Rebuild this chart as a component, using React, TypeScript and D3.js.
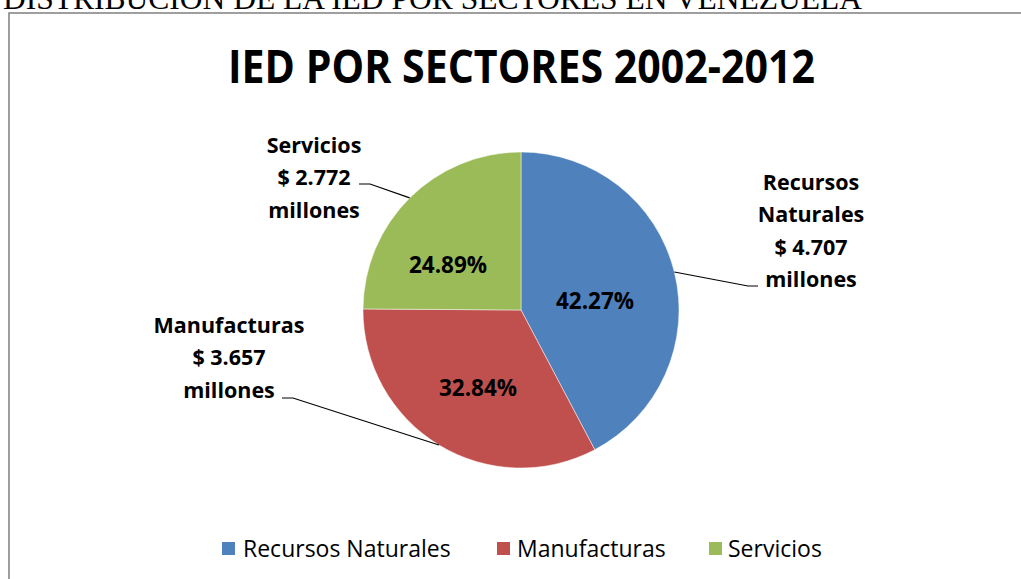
import React from "react";
import * as d3 from "d3";

const categories = ["Recursos Naturales", "Manufacturas", "Servicios"];
const values = [4707, 3657, 2772];
const amountLabels = ["$ 4.707", "$ 3.657", "$ 2.772"];
const colors = ["#4F81BD", "#C0504D", "#9BBB59"];
const pageHeading = "DISTRIBUCIÓN DE LA IED POR SECTORES EN VENEZUELA";
const chartTitle = "IED POR SECTORES 2002-2012";

const W = 1021;
const H = 579;
const cx = 521;
const cy = 310;
const R = 158;
const FONT = "'Open Sans', 'Noto Sans', sans-serif";

// label layouts (outside-end data labels)
const labelLines = [
  ["Recursos", "Naturales", amountLabels[0], "millones"],
  ["Manufacturas", amountLabels[1], "millones"],
  ["Servicios", amountLabels[2], "millones"],
];
const labelAnchors = [
  { x: 811, y: 190 },
  { x: 229, y: 333 },
  { x: 314, y: 153 },
];
const leaderEnds = [
  { x: 748, y: 286, hx: 758 },
  { x: 293, y: 398, hx: 282 },
  { x: 370, y: 184, hx: 359 },
];
// percentage label centres (layout)
const pctCentres = [
  { x: 595, y: 300 },
  { x: 478, y: 387 },
  { x: 448, y: 264 },
];

export default function App() {
  const total = d3.sum(values);
  const pie = d3.pie<number>().sort(null).value((d) => d);
  const arcs = pie(values);
  const arcGen = d3.arc<d3.PieArcDatum<number>>().innerRadius(0).outerRadius(R);
  const pctFmt = (v: number) => ((v / total) * 100).toFixed(2) + "%";

  const legendItems = [
    { sq: 222, tx: 243 },
    { sq: 497, tx: 517 },
    { sq: 709, tx: 728 },
  ];

  return (
    <svg
      width={W}
      height={H}
      style={{ position: "absolute", left: 0, top: 0, background: "#fff" }}
    >
      <rect x={0} y={0} width={W} height={H} fill="#fff" />
      <text
        x={3}
        y={9}
        fontFamily="'Liberation Serif', 'Times New Roman', serif"
        fontSize={31}
        textLength={859}
        lengthAdjust="spacingAndGlyphs"
        fill="#000"
      >
        {pageHeading}
      </text>
      <rect
        x={9}
        y={13}
        width={W + 20}
        height={H + 20}
        fill="#fff"
        stroke="#878787"
        strokeWidth={1.6}
      />
      <text
        x={521.5}
        y={83}
        textAnchor="middle"
        fontFamily={FONT}
        fontWeight="bold"
        fontSize={47}
        textLength={587}
        lengthAdjust="spacingAndGlyphs"
        fill="#000"
      >
        {chartTitle}
      </text>

      <g transform={`translate(${cx},${cy})`}>
        {arcs.map((a, i) => (
          <path
            key={i}
            d={arcGen(a) || ""}
            fill={colors[i]}
            stroke="#ffffff"
            strokeOpacity={0.6}
            strokeWidth={0.8}
          />
        ))}
      </g>

      {arcs.map((a, i) => (
        <text
          key={i}
          x={pctCentres[i].x}
          y={pctCentres[i].y}
          textAnchor="middle"
          dominantBaseline="central"
          fontFamily={FONT}
          fontWeight="bold"
          fontSize={22.5}
          fill="#000"
        >
          {pctFmt(a.data)}
        </text>
      ))}

      {arcs.map((a, i) => {
        const mid = (a.startAngle + a.endAngle) / 2;
        const ex = cx + Math.sin(mid) * R;
        const ey = cy - Math.cos(mid) * R;
        const le = leaderEnds[i];
        return (
          <polyline
            key={i}
            points={`${ex},${ey} ${le.x},${le.y} ${le.hx},${le.y}`}
            fill="none"
            stroke="#000"
            strokeWidth={1.2}
          />
        );
      })}

      {labelLines.map((lines, i) => (
        <text
          key={i}
          textAnchor="middle"
          fontFamily={FONT}
          fontWeight="bold"
          fontSize={21.5}
          fill="#000"
        >
          {lines.map((ln, j) => (
            <tspan key={j} x={labelAnchors[i].x} y={labelAnchors[i].y + j * 32.3}>
              {ln}
            </tspan>
          ))}
        </text>
      ))}

      {categories.map((c, i) => (
        <g key={c}>
          <rect
            x={legendItems[i].sq}
            y={542}
            width={13}
            height={13}
            fill={colors[i]}
          />
          <text
            x={legendItems[i].tx}
            y={557}
            fontFamily={FONT}
            fontSize={23}
            fill="#000"
          >
            {c}
          </text>
        </g>
      ))}
    </svg>
  );
}
